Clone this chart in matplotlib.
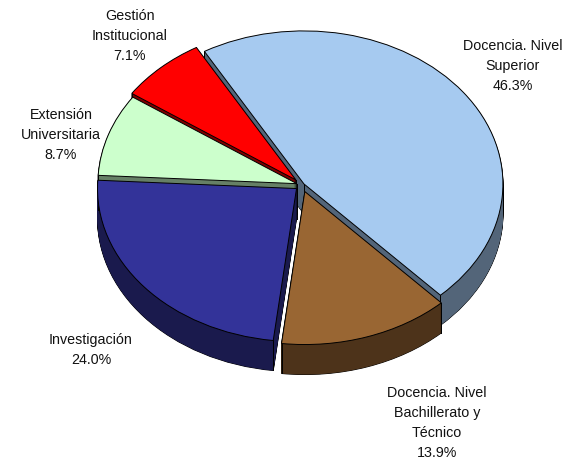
import numpy as np
import matplotlib
matplotlib.use("Agg")
import matplotlib.pyplot as plt
from matplotlib.patches import Wedge

categories = ["Docencia. Nivel\nSuperior", "Docencia. Nivel\nBachillerato y\nTécnico",
              "Investigación", "Extensión\nUniversitaria", "Gestión\nInstitucional"]
shares = [46.3, 13.9, 24.0, 8.7, 7.1]
explode = [0.012, 0.045, 0.036, 0.027, 0.045]
top_colors = ["#A6CAF0", "#996633", "#333399", "#CCFFCC", "#FF0000"]
side_colors = ["#536579", "#4D331A", "#1A1A4D", "#668066", "#800000"]
# back-to-front drawing order of the slices
draw_order = [0, 4, 3, 2, 1]
label_px = [(513, 66), (437, 423), (91, 350), (61, 135), (130, 36)]

W, H = 566, 461
CX, CY, RX, RY, DEPTH = 302, 185, 199, 153, 30
LW = 0.7

plt.rcParams["font.family"] = ["Liberation Sans", "DejaVu Sans"]
fig = plt.figure(figsize=(W / 100, H / 100), dpi=100)
ax = fig.add_axes([0, 0, 1, 1])

wedges, _ = ax.pie(shares, explode=explode, colors=top_colors, startangle=120,
                   counterclock=False,
                   wedgeprops=dict(edgecolor="black", linewidth=LW))
ax.set_aspect("auto")
ax.set_xlim(-CX / RX, (W - CX) / RX)
ax.set_ylim(-(H - CY) / RY, CY / RY)
ax.axis("off")

dy = 1 / RY
steps = np.arange(1, DEPTH + 1)
for rank, idx in enumerate(draw_order):
    w = wedges[idx]
    base = 10 + rank * 10
    w.set_zorder(base + 5)
    cx, cy = w.center
    for d in steps:
        ax.add_patch(Wedge((cx, cy - d * dy), w.r, w.theta1, w.theta2, facecolor=side_colors[idx],
                           edgecolor="black", linewidth=LW, zorder=base))
        ax.add_patch(Wedge((cx, cy - d * dy), w.r, w.theta1, w.theta2, facecolor=side_colors[idx],
                           edgecolor="none", linewidth=0, zorder=base + 1))
    for th in (w.theta1, w.theta2):
        x = cx + w.r * np.cos(np.radians(th))
        y = cy + w.r * np.sin(np.radians(th))
        ax.plot([x, x], [y, y - DEPTH * dy], color="black", lw=LW, zorder=base + 2)
    ax.plot([cx, cx], [cy, cy - DEPTH * dy], color="black", lw=LW, zorder=base + 2)

for (px, py), name, s in zip(label_px, categories, shares):
    ax.text((px - CX) / RX, (CY - py) / RY, f"{name}\n{s:.1f}%", ha="center", va="center",
            fontsize=10.3, linespacing=1.55, color="#111111", zorder=100)

fig.savefig("out.png", dpi=100)
